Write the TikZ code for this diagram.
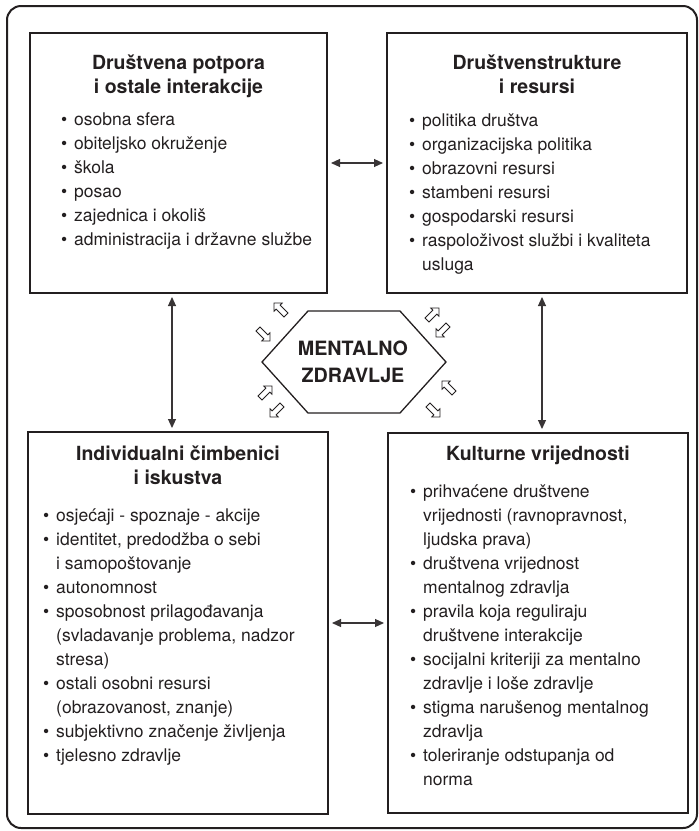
\documentclass[tikz,border=0pt]{standalone}
\usepackage{fontspec}
\setmainfont{TeX Gyre Heros}
\usetikzlibrary{arrows.meta,shapes.arrows,calc}
\definecolor{ink}{HTML}{231F20}
\newcommand\myb{\makebox[13pt][l]{\textbullet}}
\newcommand\myc{\hspace*{13pt}}
\begin{document}
\begin{tikzpicture}[x=1pt,y=-1pt,
  boxst/.style={draw=ink, line width=2.4pt, outer sep=0pt, inner sep=0pt, anchor=north west},
  titlest/.style={text=ink, font=\bfseries\fontsize{19.5}{24}\selectfont, align=center, inner sep=0pt, anchor=north},
  listst/.style={text=ink, font=\fontsize{17.5}{24}\selectfont, align=left, inner sep=0pt, anchor=north west},
  conn/.style={draw=ink!90, line width=1.1pt, {Triangle[length=9pt,width=8pt]}-{Triangle[length=9pt,width=8pt]}, shorten <=4pt, shorten >=4pt},
  openarr/.style={shape=single arrow, draw=ink, line width=0.8pt, fill=white, inner sep=2.4pt, minimum height=17pt, single arrow head extend=3pt}
]
\useasboundingbox (0,0) rectangle (699,831);
% outer frame
\draw[ink, line width=2pt, rounded corners=14pt] (7,6) rectangle (697,828);

% boxes
\node[boxst, minimum width=297pt, minimum height=260pt] (tl) at (30,33) {};
\node[boxst, minimum width=300pt, minimum height=260pt] (tr) at (387,33) {};
\node[boxst, minimum width=300pt, minimum height=382pt] (bl) at (28,432) {};
\node[boxst, minimum width=300pt, minimum height=380pt] (br) at (388,433) {};

% titles
\node[titlest] (tlT) at (178.5,52.2) {\strut Društvena potpora\\i ostale interakcije};
\node[titlest] (trT) at (537,52.2) {\strut Društvenstrukture\\i resursi};
\node[titlest] (blT) at (178,443.2) {\strut Individualni čimbenici\\i iskustva};
\node[titlest] (brT) at (538,443.2) {\strut Kulturne vrijednosti};

% lists
\node[listst] (tlL) at (61,108.2) {\strut\myb osobna sfera\\
\myb obiteljsko okruženje\\
\myb škola\\
\myb posao\\
\myb zajednica i okoliš\\
\myb administracija i državne službe};

\node[listst] (trL) at (409,109.2) {\strut\myb politika društva\\
\myb organizacijska politika\\
\myb obrazovni resursi\\
\myb stambeni resursi\\
\myb gospodarski resursi\\
\myb raspoloživost službi i kvaliteta\\
\myc usluga};

\node[listst] (blL) at (43,504.2) {\strut\myb osjećaji - spoznaje - akcije\\
\myb identitet, predodžba o sebi\\
\myc i samopoštovanje\\
\myb autonomnost\\
\myb sposobnost prilagođavanja\\
\myc (svladavanje problema, nadzor\\
\myc stresa)\\
\myb ostali osobni resursi\\
\myc (obrazovanost, znanje)\\
\myb subjektivno značenje življenja\\
\myb tjelesno zdravlje};

\node[listst] (brL) at (410,480.2) {\strut\myb prihvaćene društvene\\
\myc vrijednosti (ravnopravnost,\\
\myc ljudska prava)\\
\myb društvena vrijednost\\
\myc mentalnog zdravlja\\
\myb pravila koja reguliraju\\
\myc društvene interakcije\\
\myb socijalni kriteriji za mentalno\\
\myc zdravlje i loše zdravlje\\
\myb stigma narušenog mentalnog\\
\myc zdravlja\\
\myb toleriranje odstupanja od\\
\myc norma};

% central hexagon
\node[text=ink, font=\bfseries\fontsize{19.7}{27}\selectfont, align=center, inner sep=0pt] (hex) at (353,362) {MENTALNO\\ZDRAVLJE};
\draw[ink, line width=1.3pt] (262,362) -- (308,311) -- (400,311) -- (446,362) -- (400,413) -- (308,413) -- cycle;

% small open arrows
\node[openarr, rotate=135] (a1) at (281,310) {};
\node[openarr, rotate=-45] (a2) at (263,334) {};
\node[openarr, rotate=45] (a3) at (432,315) {};
\node[openarr, rotate=225] (a4) at (443,330) {};
\node[openarr, rotate=45] (a5) at (265,393) {};
\node[openarr, rotate=225] (a6) at (277,410) {};
\node[openarr, rotate=135] (a7) at (449,388) {};
\node[openarr, rotate=-45] (a8) at (433,410) {};

% connectors
\draw[conn] (tl.east) -- (tr.west);
\draw[conn] (bl.east) -- (br.west);
\draw[conn] ([xshift=-6.5pt]tl.south) -- ([xshift=-6.5pt]tl.south |- bl.north);
\draw[conn] ([xshift=5pt]tr.south) -- ([xshift=5pt]tr.south |- br.north);
\end{tikzpicture}
\end{document}
